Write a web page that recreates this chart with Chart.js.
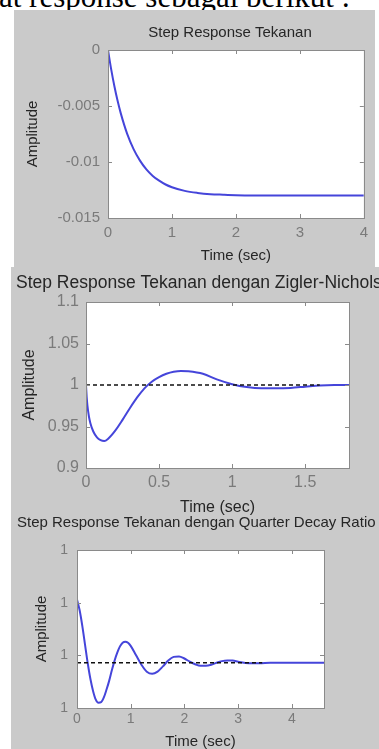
<!DOCTYPE html>
<html>
<head>
<meta charset="utf-8">
<script src="https://cdn.jsdelivr.net/npm/chart.js@4.4.1/dist/chart.umd.min.js"></script>
<style>
  html,body{margin:0;padding:0;background:#fff;}
  body{width:379px;height:749px;overflow:hidden;position:relative;}
  #toptext{position:absolute;left:-1px;top:-19px;font-family:"Liberation Serif","Times New Roman",serif;font-size:31px;line-height:31px;color:#000;white-space:nowrap;}
  .panel{position:absolute;background:#cacaca;}
  canvas{position:absolute;display:block;}
</style>
</head>
<body>
<div id="toptext">at response sebagai berikut :</div>
<div class="panel" style="left:14px;top:10px;width:361px;height:257px;"></div>
<div class="panel" style="left:11px;top:267px;width:368px;height:482px;"></div>
<canvas id="c1" width="361" height="257" style="left:14px;top:10px;"></canvas>
<canvas id="c2" width="368" height="249" style="left:11px;top:267px;"></canvas>
<canvas id="c3" width="368" height="233" style="left:11px;top:516px;"></canvas>
<script>
// ---------- Panel 1: Step Response Tekanan ----------
const p1Title = 'Step Response Tekanan';
const p1Time = [0, 0.05, 0.1, 0.15, 0.2, 0.3, 0.4, 0.5, 0.6, 0.7, 0.8, 0.9, 1.0, 1.2, 1.4, 1.6, 1.8, 2.0, 2.5, 3.0, 3.5, 4.0];
const p1Amp  = [0, -0.00173, -0.00324, -0.00454, -0.00566, -0.00749, -0.00885, -0.00988, -0.01066, -0.01124, -0.01167, -0.01201, -0.01225, -0.01258, -0.01276, -0.01287, -0.01292, -0.01296, -0.0130, -0.0130, -0.0130, -0.0130];
const p1XTicks = [0, 1, 2, 3, 4];
const p1XTickLabels = ['0', '1', '2', '3', '4'];
const p1YTicks = [-0.015, -0.01, -0.005, 0];
const p1YTickLabels = ['-0.015', '-0.01', '-0.005', '0'];

// ---------- Panel 2: Zigler-Nichols ----------
const p2Title = 'Step Response Tekanan dengan Zigler-Nichols';
const p2Time = [0, 0.005, 0.01, 0.02, 0.03, 0.05, 0.075, 0.1, 0.125, 0.15, 0.2, 0.25, 0.3, 0.35, 0.4, 0.45, 0.5, 0.55, 0.6, 0.65, 0.7, 0.8, 0.9, 1.0, 1.1, 1.2, 1.3, 1.4, 1.5, 1.6, 1.7, 1.8];
const p2Amp  = [1.0, 0.985, 0.975, 0.962, 0.954, 0.944, 0.937, 0.9335, 0.9325, 0.935, 0.945, 0.958, 0.972, 0.985, 0.996, 1.004, 1.0095, 1.0135, 1.016, 1.017, 1.0165, 1.0135, 1.0065, 1.001, 0.9975, 0.996, 0.996, 0.9965, 0.998, 0.9995, 1.0, 1.0];
const p2RefTime = [0, 1.6];
const p2RefAmp  = [1.0, 1.0];
const p2XTicks = [0, 0.5, 1, 1.5];
const p2XTickLabels = ['0', '0.5', '1', '1.5'];
const p2YTicks = [0.9, 0.95, 1.0, 1.05, 1.1];
const p2YTickLabels = ['0.9', '0.95', '1', '1.05', '1.1'];

// ---------- Panel 3: Quarter Decay Ratio (all y tick labels read "1") ----------
const p3Title = 'Step Response Tekanan dengan Quarter Decay Ratio';
const p3Time = [0, 0.05, 0.1, 0.15, 0.2, 0.25, 0.3, 0.35, 0.4, 0.45, 0.5, 0.55, 0.6, 0.65, 0.7, 0.75, 0.8, 0.85, 0.9, 0.95, 1.0, 1.1, 1.2, 1.3, 1.4, 1.5, 1.6, 1.7, 1.8, 1.9, 2.0, 2.1, 2.2, 2.3, 2.4, 2.5, 2.6, 2.7, 2.8, 2.9, 3.0, 3.2, 3.4, 3.6, 4.0, 4.6];
const p3Amp  = [2.06, 1.85, 1.55, 1.2, 0.85, 0.55, 0.32, 0.16, 0.10, 0.11, 0.2, 0.35, 0.52, 0.72, 0.9, 1.05, 1.17, 1.24, 1.26, 1.24, 1.18, 1.0, 0.82, 0.69, 0.65, 0.69, 0.79, 0.9, 0.97, 0.98, 0.94, 0.88, 0.83, 0.80, 0.80, 0.82, 0.86, 0.89, 0.90, 0.90, 0.88, 0.85, 0.85, 0.86, 0.86, 0.86];
const p3RefTime = [0, 3.45];
const p3RefAmp  = [0.86, 0.86];
const p3XTicks = [0, 1, 2, 3, 4];
const p3XTickLabels = ['0', '1', '2', '3', '4'];
const p3YTicks = [0, 1, 2, 3];
const p3YTickLabels = ['1', '1', '1', '1'];

const FONT = "'Liberation Sans', Arial, sans-serif";
const TICK_COLOR = '#7a7a7a';
const TEXT_COLOR = '#262626';
const FRAME_COLOR = '#8a8a8a';
const LINE_COLOR = '#4545da';

const matlabPlugin = {
  id: 'matlab',
  beforeDraw(chart) {
    const a = chart.chartArea, ctx = chart.ctx;
    ctx.save();
    ctx.fillStyle = '#ffffff';
    ctx.fillRect(a.left, a.top, a.right - a.left, a.bottom - a.top);
    ctx.restore();
  },
  afterDatasetsDraw(chart, args, opts) {
    const a = chart.chartArea, ctx = chart.ctx;
    const xs = chart.scales.x, ys = chart.scales.y;
    ctx.save();
    ctx.strokeStyle = FRAME_COLOR;
    ctx.lineWidth = 1;
    ctx.beginPath();
    xs.ticks.forEach(t => {
      const px = Math.round(xs.getPixelForValue(t.value)) + 0.5;
      ctx.moveTo(px, a.bottom); ctx.lineTo(px, a.bottom - 4);
      ctx.moveTo(px, a.top); ctx.lineTo(px, a.top + 4);
    });
    ys.ticks.forEach(t => {
      const py = Math.round(ys.getPixelForValue(t.value)) + 0.5;
      ctx.moveTo(a.left, py); ctx.lineTo(a.left + 4, py);
      ctx.moveTo(a.right, py); ctx.lineTo(a.right - 4, py);
    });
    ctx.stroke();
    ctx.strokeRect(Math.round(a.left) + 0.5, Math.round(a.top) + 0.5, Math.round(a.right - a.left), Math.round(a.bottom - a.top));
    ctx.restore();
  },
  afterDraw(chart, args, opts) {
    const ctx = chart.ctx;
    ctx.save();
    ctx.fillStyle = TEXT_COLOR;
    ctx.font = opts.size + 'px ' + FONT;
    ctx.textAlign = opts.align;
    ctx.textBaseline = 'middle';
    ctx.fillText(opts.text, opts.x, opts.y);
    ctx.restore();
  }
};

function pairs(xs, ys) { return xs.map((x, i) => ({x: x, y: ys[i]})); }

function build(id, o) {
  const datasets = [];
  if (o.refT) {
    datasets.push({data: pairs(o.refT, o.refA), borderColor: '#111111', borderWidth: 1.6, borderDash: [4, 3], pointRadius: 0, fill: false});
  }
  datasets.push({data: pairs(o.t, o.a), borderColor: LINE_COLOR, borderWidth: 2, pointRadius: 0, fill: false, cubicInterpolationMode: 'monotone'});
  return new Chart(document.getElementById(id), {
    type: 'line',
    data: {datasets: datasets},
    plugins: [matlabPlugin],
    options: {
      responsive: false, animation: false, devicePixelRatio: 1,
      layout: {padding: {top: o.padTop, right: o.padRight, left: 0, bottom: 0}},
      plugins: {
        legend: {display: false}, tooltip: {enabled: false},
        matlab: {text: o.title, x: o.titleX, y: o.titleY, size: o.titleSize, align: o.titleAlign}
      },
      scales: {
        x: {
          type: 'linear', min: o.xMin, max: o.xMax,
          afterBuildTicks: s => { s.ticks = o.xTicks.map(v => ({value: v})); },
          afterFit: s => { s.height = o.xH; },
          grid: {display: false, drawTicks: false}, border: {display: false},
          ticks: {autoSkip: false, maxRotation: 0, padding: o.xTickPad, color: TICK_COLOR,
                  font: {family: FONT, size: o.tickSize, lineHeight: 1},
                  callback: (v, i) => o.xLabels[i]},
          title: {display: true, text: 'Time (sec)', color: TEXT_COLOR,
                  font: {family: FONT, size: o.labelSize, lineHeight: 1},
                  padding: {top: 0, bottom: o.xTitlePad}}
        },
        y: {
          type: 'linear', min: o.yMin, max: o.yMax,
          afterBuildTicks: s => { s.ticks = o.yTicks.map(v => ({value: v})); },
          afterFit: s => { s.width = o.yW; },
          grid: {display: false, drawTicks: false}, border: {display: false},
          ticks: {autoSkip: false, padding: o.yTickPad, color: TICK_COLOR,
                  font: {family: FONT, size: o.tickSize, lineHeight: 1},
                  callback: (v, i) => o.yLabels[i]},
          title: {display: true, text: 'Amplitude', color: TEXT_COLOR,
                  font: {family: FONT, size: o.labelSize, lineHeight: 1},
                  padding: {top: o.yTitlePad, bottom: 0}}
        }
      }
    }
  });
}

build('c1', {
  t: p1Time, a: p1Amp,
  xMin: 0, xMax: 4, yMin: -0.015, yMax: 0,
  xTicks: p1XTicks, xLabels: p1XTickLabels, yTicks: p1YTicks, yLabels: p1YTickLabels,
  padTop: 40, padRight: 4, xH: 49, yW: 94,
  tickSize: 15, labelSize: 15, xTickPad: 7, xTitlePad: 4, yTickPad: 8, yTitlePad: 11,
  title: p1Title, titleX: 216, titleY: 23, titleSize: 15, titleAlign: 'center'
});

build('c2', {
  t: p2Time, a: p2Amp, refT: p2RefTime, refA: p2RefAmp,
  xMin: 0, xMax: 1.8, yMin: 0.9, yMax: 1.1,
  xTicks: p2XTicks, xLabels: p2XTickLabels, yTicks: p2YTicks, yLabels: p2YTickLabels,
  padTop: 35, padRight: 30, xH: 48, yW: 75,
  tickSize: 16, labelSize: 16, xTickPad: 7, xTitlePad: 0, yTickPad: 7, yTitlePad: 11,
  title: p2Title, titleX: 5, titleY: 16, titleSize: 17.5, titleAlign: 'left'
});

build('c3', {
  t: p3Time, a: p3Amp, refT: p3RefTime, refA: p3RefAmp,
  xMin: 0, xMax: 4.6, yMin: 0, yMax: 3,
  xTicks: p3XTicks, xLabels: p3XTickLabels, yTicks: p3YTicks, yLabels: p3YTickLabels,
  padTop: 34, padRight: 55, xH: 41, yW: 66,
  tickSize: 14, labelSize: 15, xTickPad: 4, xTitlePad: 0, yTickPad: 9, yTitlePad: 23,
  title: p3Title, titleX: 6, titleY: 7, titleSize: 15, titleAlign: 'left'
});
</script>
</body>
</html>
